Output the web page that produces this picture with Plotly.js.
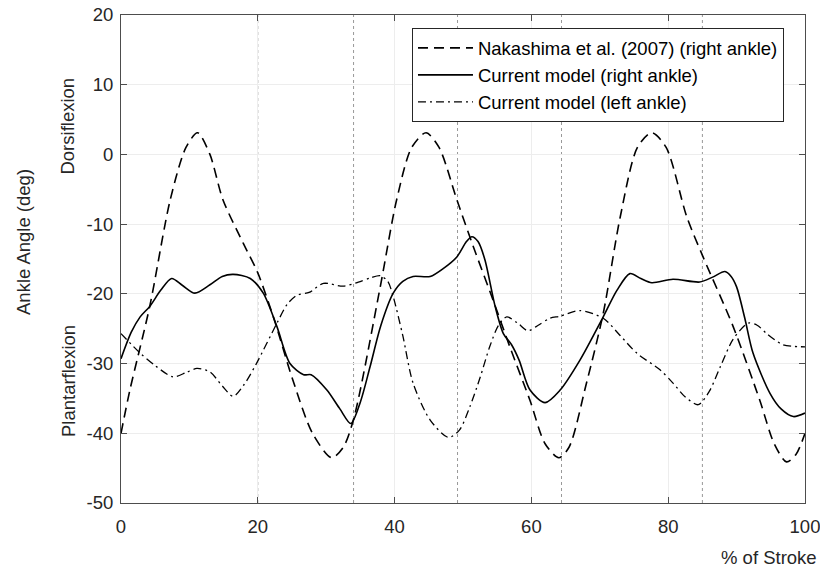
<!DOCTYPE html>
<html>
<head>
<meta charset="utf-8">
<script src="https://cdn.plot.ly/plotly-3.0.1.min.js"></script>
<style>html,body{margin:0;padding:0;background:#fff;}#chart{width:820px;height:567px;}</style>
</head>
<body>
<div id="chart"></div>
<script>
// Nakashima et al. (2007) (right ankle)
const nakX = [0,1.3,4.2,7.2,9.5,11.2,13,14.9,17.9,20,22.5,25,28,30.8,32.5,34,37.9,40.3,42.5,44.6,46.5,49.1,51.5,54.4,57,59.8,62,64,65.5,68,70.5,73,75.5,77.6,79.7,82.7,85.1,89.5,93.4,95.5,97.3,98.7,100];
const nakY = [-40,-33.8,-21.8,-6.5,1,3.1,0,-6.5,-12.8,-17,-24,-32,-40,-43.5,-42,-38,-19,-6.5,1,3.1,1,-6.5,-13.2,-20.9,-28,-35.3,-41.5,-43.5,-42,-33,-22.8,-8.9,1,3.1,1,-8.9,-14.7,-24.7,-35.3,-41.5,-44.1,-43,-40];
// Current model (right ankle)
const rightX = [0,1.5,2.8,4.2,5.8,7.4,9,10.8,13,14.8,16.4,18.9,20.8,22.8,24.7,26.7,27.8,30.1,32,33.6,35,36.4,38,39.8,41.2,42.7,45.2,47.2,49.1,50.5,51.3,52.2,53.2,54.7,55.9,57.1,58.2,59.8,62,64.2,67.1,70.5,72.5,74.4,76,77.6,80.7,84.6,86.5,88.3,89.2,90,91.2,92.4,94.9,96.5,98.3,100];
const rightY = [-29.3,-25.5,-23.3,-21.8,-19.5,-17.8,-18.8,-19.9,-18.7,-17.5,-17.2,-17.8,-19.9,-24.7,-30,-31.6,-31.6,-33.8,-36.5,-38.6,-35.5,-30.5,-24.5,-19.9,-18.2,-17.5,-17.5,-16.3,-14.7,-12.5,-11.8,-12.5,-15.1,-21.8,-25.7,-27.3,-29.5,-33.8,-35.6,-33.8,-29.5,-23.3,-19.5,-17.1,-17.8,-18.4,-17.9,-18.3,-17.6,-16.8,-17.5,-19,-23.5,-28.5,-34.3,-36.5,-37.6,-37.1];
// Current model (left ankle)
const leftX = [0,2.8,5,7.6,9.5,11.1,13,14.8,16.4,18,19.8,22.8,24.3,25.7,27.5,29.6,32.5,34.7,36.5,37.9,39,39.8,41.2,42.7,45.2,47.9,49.5,51,52.5,53.9,55.2,56.4,58,59.5,61,62.7,64.2,67.1,70.5,73,75.4,78.8,80.7,82.5,84.4,86,87.6,89.5,91.7,93,94.4,96.8,100];
const leftY = [-25.7,-28.5,-30.3,-31.9,-31.3,-30.7,-31.2,-33.2,-34.7,-33,-30,-24.2,-21.5,-20.2,-19.8,-18.5,-18.9,-18.3,-17.7,-17.4,-18.2,-20.4,-26,-32.8,-38.1,-40.6,-39.5,-36.2,-32,-27.6,-24.5,-23.3,-24.2,-25.3,-24.5,-23.5,-23.2,-22.4,-23.5,-26,-28.5,-30.9,-32.8,-34.8,-35.9,-34,-30.5,-26.5,-24.2,-24.5,-25.7,-27.3,-27.6];
// Event markers (vertical dotted lines), % of stroke
const eventX = [20, 34, 49.2, 64.4, 85];
const xTicks = [0,20,40,60,80,100];
const yTicks = [-50,-40,-30,-20,-10,0,10,20];
const seriesNames = ['Nakashima et al. (2007) (right ankle)','Current model (right ankle)','Current model (left ankle)'];

const FONT = 'Liberation Sans, Arial, sans-serif';
const FS = 18.5;
const traces = [
  {x: nakX, y: nakY, name: seriesNames[0], mode: 'lines', line: {color:'#000', width:1.6, dash:'10px,6px', shape:'spline', smoothing:0.8}},
  {x: rightX, y: rightY, name: seriesNames[1], mode: 'lines', line: {color:'#000', width:1.6, shape:'spline', smoothing:0.8}},
  {x: leftX, y: leftY, name: seriesNames[2], mode: 'lines', line: {color:'#000', width:1.3, dash:'8px,4px,2px,4px', shape:'spline', smoothing:0.8}}
];
const shapes = eventX.map(v => ({type:'line', xref:'x', yref:'paper', x0:v, x1:v, y0:0, y1:1, line:{color:'#999', width:1, dash:'dot'}, layer:'below'}));
const axisCommon = {
  showline:true, linecolor:'#4d4d4d', linewidth:1, mirror:'ticks',
  ticks:'inside', ticklen:6, tickcolor:'#4d4d4d', tickwidth:1,
  showgrid:true, gridcolor:'#ededed', gridwidth:1, zeroline:false,
  tickfont:{family:FONT, size:FS, color:'#262626'}, ticklabeloverflow:'allow'
};
const layout = {
  width:820, height:567,
  margin:{l:121, r:15, t:15, b:64},
  paper_bgcolor:'#fff', plot_bgcolor:'#fff',
  showlegend:true,
  legend:{x:0.4254, y:0.9727, xanchor:'left', yanchor:'top', bgcolor:'#fff', bordercolor:'#262626', borderwidth:1,
          font:{family:FONT, size:FS, color:'#000'}, tracegroupgap:0, itemwidth:55},
  xaxis:Object.assign({}, axisCommon, {range:[0,100], tickvals:xTicks, ticktext:xTicks.map(String), ticklabelstandoff:7}),
  yaxis:Object.assign({}, axisCommon, {range:[-50,20], tickvals:yTicks, ticktext:yTicks.map(String), ticklabelstandoff:3}),
  shapes: shapes,
  annotations:[
    {text:'% of Stroke', xref:'paper', yref:'paper', x:1.0, y:0, xanchor:'right', yanchor:'top', xshift:14, yshift:-42, showarrow:false, font:{family:FONT, size:FS, color:'#262626'}},
    {text:'Ankle Angle (deg)', xref:'paper', yref:'paper', x:0, y:0.5, xshift:-98, yshift:17, textangle:-90, xanchor:'center', yanchor:'middle', showarrow:false, font:{family:FONT, size:FS, color:'#262626'}},
    {text:'Dorsiflexion', xref:'paper', yref:'y', x:0, y:4.0, xshift:-53, textangle:-90, xanchor:'center', yanchor:'middle', showarrow:false, font:{family:FONT, size:FS, color:'#262626'}},
    {text:'Plantarflexion', xref:'paper', yref:'y', x:0, y:-32.5, xshift:-53, textangle:-90, xanchor:'center', yanchor:'middle', showarrow:false, font:{family:FONT, size:FS, color:'#262626'}}
  ]
};
Plotly.newPlot('chart', traces, layout, {displayModeBar:false, staticPlot:true});
</script>
</body>
</html>
